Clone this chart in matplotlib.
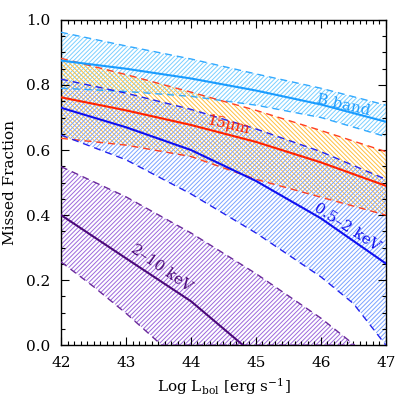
import numpy as np
import matplotlib
matplotlib.use("Agg")
import matplotlib.pyplot as plt
from matplotlib.patches import Polygon
from matplotlib.collections import LineCollection
from matplotlib.ticker import MultipleLocator, FormatStrFormatter

plt.rcParams['font.family'] = ['DejaVu Serif']
plt.rcParams['mathtext.fontset'] = 'dejavuserif'

# =============================================================================
# Data (log L_bol vs missed fraction)
# =============================================================================
logL = [42, 43, 44, 45, 46, 47]

# B band
b_mid = [0.875, 0.850, 0.820, 0.783, 0.740, 0.687]
b_hi  = [0.962, 0.920, 0.880, 0.834, 0.790, 0.738]
b_lo  = [0.790, 0.780, 0.765, 0.738, 0.700, 0.641]

# 15 micron
ir_mid = [0.762, 0.722, 0.677, 0.625, 0.562, 0.490]
ir_hi  = [0.882, 0.832, 0.778, 0.722, 0.660, 0.595]
ir_lo  = [0.636, 0.615, 0.580, 0.510, 0.455, 0.400]

# 0.5-2 keV
sx_mid = [0.730, 0.670, 0.600, 0.505, 0.390, 0.251]
sx_hi  = [0.818, 0.775, 0.725, 0.665, 0.595, 0.510]
sx_lo_x = [42, 43, 44, 45, 46, 46.5, 47]
sx_lo   = [0.646, 0.570, 0.465, 0.345, 0.210, 0.128, 0.0]

# 2-10 keV
hx_mid_x = [42, 43, 44, 44.8]
hx_mid   = [0.400, 0.267, 0.135, 0.0]
hx_hi_x  = [42, 43, 44, 45, 46, 46.52]
hx_hi    = [0.549, 0.456, 0.345, 0.220, 0.083, 0.0]
hx_lo_x  = [42, 42.5, 43, 43.55, 46.52]
hx_lo    = [0.256, 0.180, 0.098, 0.0, 0.0]

# =============================================================================
# Helpers
# =============================================================================
def hatch(ax, xu, yu, xl, yl, color, sign=1, step=0.0135, lw=0.7):
    # diagonal lines in axes space, clipped to the band polygon
    verts = list(zip(xu, yu)) + list(zip(xl, yl))[::-1]
    patch = Polygon(verts, closed=True, facecolor='none', edgecolor='none')
    ax.add_patch(patch)
    segs = []
    for c in np.arange(-1.0, 2.0, step):
        if sign > 0:
            segs.append([(-0.1, -0.1 + c), (1.1, 1.1 + c)])
        else:
            segs.append([(-0.1, 1.1 - c), (1.1, -0.1 - c)])
    lc = LineCollection(segs, colors=color, linewidths=lw,
                        transform=ax.transAxes, zorder=1)
    ax.add_collection(lc)
    lc.set_clip_path(patch)

def dashed(ax, x, y, color):
    ax.plot(x, y, color=color, lw=1.0, dashes=(5, 3.5), zorder=3)

# =============================================================================
# Plot
# =============================================================================
fig = plt.figure(figsize=(4.07, 4.07), dpi=100)
ax = fig.add_axes([0.150, 0.152, 0.798, 0.799])

c_b, c_b_h   = '#1a9cff', '#7acfff'
c_ir, c_ir_h = '#ff2200', '#ffbf40'
c_sx, c_sx_h = '#1010f0', '#7aa2ff'
c_hx, c_hx_h = '#4c0a7a', '#9c68dc'

hatch(ax, logL, b_hi, logL, b_lo, c_b_h, sign=1)
hatch(ax, logL, ir_hi, logL, ir_lo, c_ir_h, sign=-1)
hatch(ax, logL, sx_hi, sx_lo_x, sx_lo, c_sx_h, sign=1)
hatch(ax, hx_hi_x, hx_hi, hx_lo_x, hx_lo, c_hx_h, sign=1)

dashed(ax, logL, b_hi, '#33aaff')
dashed(ax, logL, b_lo, '#33aaff')
dashed(ax, logL, ir_hi, '#ff4020')
dashed(ax, logL, ir_lo, '#ff4020')
dashed(ax, logL, sx_hi, '#2222ee')
dashed(ax, sx_lo_x, sx_lo, '#2222ee')
dashed(ax, hx_hi_x, hx_hi, '#6a2a9a')
dashed(ax, hx_lo_x, hx_lo, '#6a2a9a')

ax.plot(logL, b_mid, color=c_b, lw=1.5, zorder=4)
ax.plot(logL, ir_mid, color=c_ir, lw=1.5, zorder=4)
ax.plot(logL, sx_mid, color=c_sx, lw=1.5, zorder=4)
ax.plot(hx_mid_x, hx_mid, color=c_hx, lw=1.5, zorder=4)

ax.text(46.35, 0.738, "B band", color=c_b, fontsize=11, rotation=-13,
        ha='center', va='center', zorder=5)
ax.text(44.57, 0.676, "15μm", color=c_ir, fontsize=11, rotation=-13,
        ha='center', va='center', zorder=5)
ax.text(46.4, 0.362, "0.5–2 keV", color=c_sx, fontsize=11, rotation=-33,
        ha='center', va='center', zorder=5)
ax.text(43.55, 0.238, "2–10 keV", color=c_hx, fontsize=11, rotation=-35,
        ha='center', va='center', zorder=5)

ax.set_xlim(42, 47)
ax.set_ylim(0, 1)
ax.xaxis.set_major_locator(MultipleLocator(1))
ax.xaxis.set_minor_locator(MultipleLocator(0.1))
ax.yaxis.set_major_locator(MultipleLocator(0.2))
ax.yaxis.set_minor_locator(MultipleLocator(0.05))
ax.yaxis.set_major_formatter(FormatStrFormatter('%.1f'))
ax.tick_params(which='both', direction='in', top=True, right=True,
               labelsize=11, pad=8)
ax.tick_params(which='major', length=6, width=0.8)
ax.tick_params(which='minor', length=3, width=0.8)
for s in ax.spines.values():
    s.set_linewidth(1.0)

ax.set_xlabel(r"Log L$_{\rm bol}$ [erg s$^{-1}$]", fontsize=11, labelpad=4)
ax.set_ylabel("Missed Fraction", fontsize=11, labelpad=6)

fig.savefig("out.png", dpi=100)
